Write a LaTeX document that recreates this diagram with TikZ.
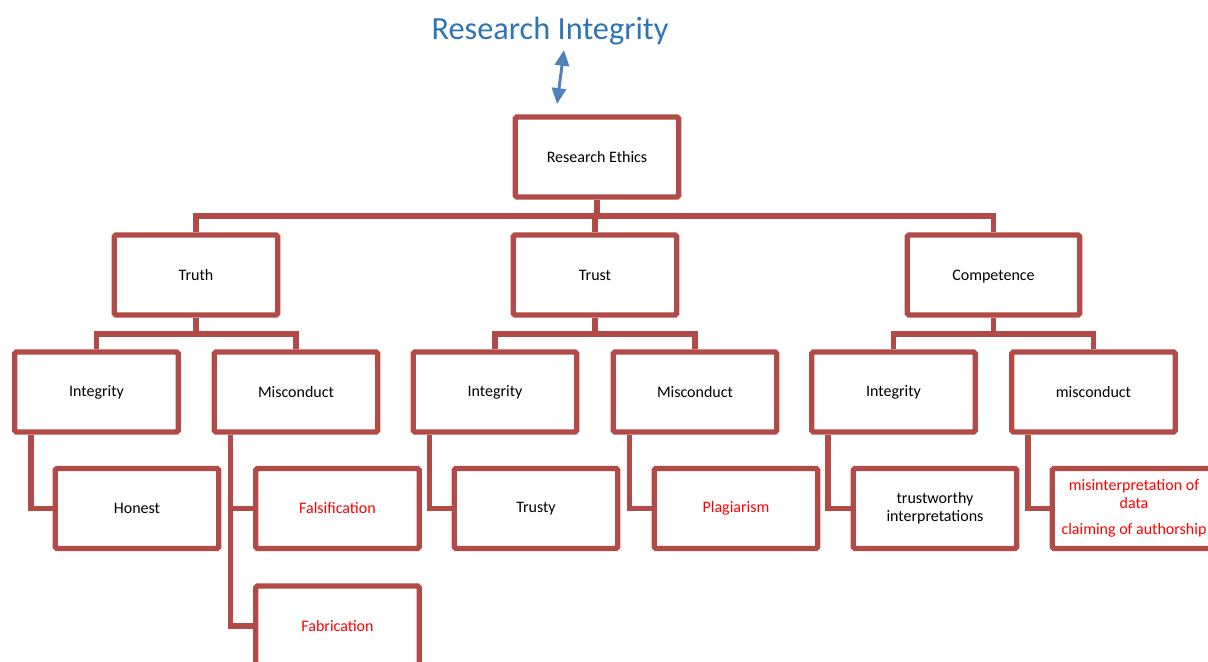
\documentclass[tikz,border=0pt]{standalone}
\usepackage{fontspec}
\setmainfont{Carlito}
\usetikzlibrary{arrows.meta,calc}

\definecolor{boxred}{RGB}{178,74,71}
\definecolor{titleblue}{RGB}{46,117,182}
\definecolor{arrowblue}{RGB}{79,129,189}

\tikzset{
  box/.style={draw=boxred, line width=3.1pt, rounded corners=1pt, fill=white,
    minimum width=3.27cm, minimum height=1.6cm, inner sep=1pt, align=center,
    font=\fontsize{9.1}{10}\selectfont},
  wide/.style={minimum width=3.45cm},
  bad/.style={text=red},
  link/.style={draw=boxred, line width=3.1pt},
}

\begin{document}
\begin{tikzpicture}[x=0.02cm,y=-0.02cm]
\useasboundingbox (0,0) rectangle (1208,662);
\clip (0,0) rectangle (1208,662);

% top
\node[text=titleblue, font=\fontsize{18.4}{20}\selectfont] (title) at (550,31) {Research Integrity};
\coordinate (up) at (564,50);
\coordinate (down) at (557,104);
\draw[arrowblue, line width=1.7pt, {Triangle[length=9pt,width=8pt]}-{Triangle[length=9pt,width=8pt]}] (down) -- (up);

\node[box] (ethics) at (597,157) {Research Ethics};

% second row
\node[box] (truth) at (196,275) {Truth};
\node[box] (trust) at (595,275) {Trust};
\node[box,wide,text depth=0pt] (comp) at (993.5,275) {Competence};

% third row
\node[box] (int1) at (96.5,392) {Integrity};
\node[box] (mis1) at (296,392) {Misconduct};
\node[box] (int2) at (495,392) {Integrity};
\node[box] (mis2) at (695,392) {Misconduct};
\node[box] (int3) at (893.5,392) {Integrity};
\node[box] (mis3) at (1093.5,392) {misconduct};

% fourth row
\node[box] (hon) at (137,508.5) {Honest};
\node[box,bad] (fals) at (337.5,508.5) {Falsification};
\node[box,bad] (fabr) at (337.5,626) {Fabrication};
\node[box] (trusty) at (536,508.5) {Trusty};
\node[box,bad] (plag) at (736,508.5) {Plagiarism};
\node[box] (trw) at (935,508.5) {trustworthy\\interpretations};
\node[box,bad] (misint) at (1134,508.5) {misinterpretation of\\data\\[5pt]claiming of authorship};

% buses
\coordinate (bus1) at (0,216);
\coordinate (bus2) at (0,334);

\draw[link] (ethics.south) -- (ethics.south |- bus1);
\draw[link] (truth.north) -- (truth.north |- bus1) -- (comp.north |- bus1) -- (comp.north);
\draw[link] (trust.north) -- (trust.north |- bus1);

\draw[link] (truth.south) -- (truth.south |- bus2);
\draw[link] (int1.north) -- (int1.north |- bus2) -- (mis1.north |- bus2) -- (mis1.north);
\draw[link] (trust.south) -- (trust.south |- bus2);
\draw[link] (int2.north) -- (int2.north |- bus2) -- (mis2.north |- bus2) -- (mis2.north);
\draw[link] (comp.south) -- (comp.south |- bus2);
\draw[link] (int3.north) -- (int3.north |- bus2) -- (mis3.north |- bus2) -- (mis3.north);

% elbows down to the leaves
\draw[link] ($(int1.south west)+(19,0)$) |- (hon.west);
\draw[link] ($(mis1.south west)+(19,0)$) |- (fals.west);
\draw[link] ($(mis1.south west)+(19,0)$) |- (fabr.west);
\draw[link] ($(int2.south west)+(19,0)$) |- (trusty.west);
\draw[link] ($(mis2.south west)+(19,0)$) |- (plag.west);
\draw[link] ($(int3.south west)+(19,0)$) |- (trw.west);
\draw[link] ($(mis3.south west)+(19,0)$) |- (misint.west);
\end{tikzpicture}
\end{document}
